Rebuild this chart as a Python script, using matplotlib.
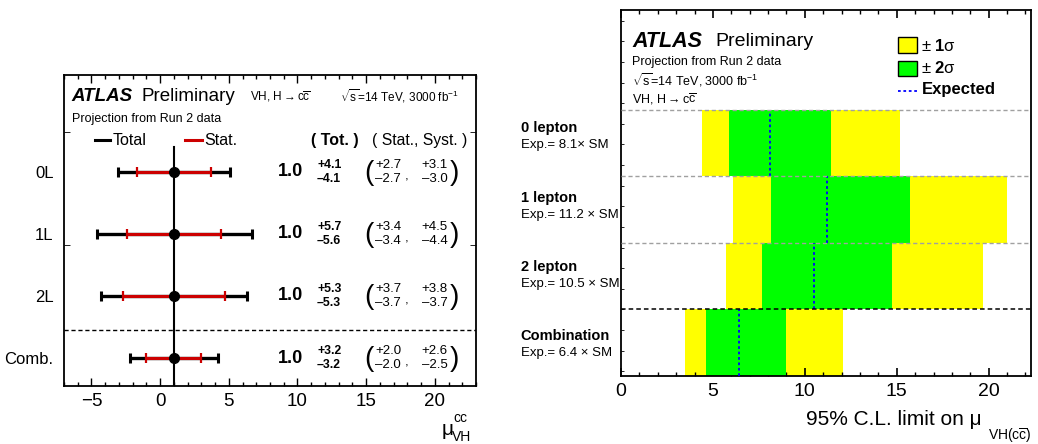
import numpy as np
import matplotlib
matplotlib.use("Agg")
import matplotlib.pyplot as plt
from matplotlib.patches import Rectangle
from matplotlib.ticker import MultipleLocator, FixedLocator
import matplotlib.transforms as mtransforms

plt.rcParams['font.family'] = ['Liberation Sans', 'DejaVu Sans']
plt.rcParams['mathtext.fontset'] = 'custom'
plt.rcParams['mathtext.rm'] = 'Liberation Sans'
plt.rcParams['mathtext.it'] = 'Liberation Sans:italic'
plt.rcParams['mathtext.bf'] = 'Liberation Sans:bold'
plt.rcParams['mathtext.sf'] = 'Liberation Sans'

# ---------------- data: left panel (signal strength) ----------------
left_labels = ["0L", "1L", "2L", "Comb."]
mu_vals = [1.0, 1.0, 1.0, 1.0]
tot_up = [4.1, 5.7, 5.3, 3.2]
tot_dn = [4.1, 5.6, 5.3, 3.2]
stat_up = [2.7, 3.4, 3.7, 2.0]
stat_dn = [2.7, 3.4, 3.7, 2.0]
syst_up = [3.1, 4.5, 3.8, 2.6]
syst_dn = [3.0, 4.4, 3.7, 2.5]

# ---------------- data: right panel (limits) ----------------
channels = ["0 lepton", "1 lepton", "2 lepton", "Combination"]
expected = [8.1, 11.2, 10.5, 6.4]
minus2 = [4.4, 6.1, 5.7, 3.5]
minus1 = [5.85, 8.15, 7.65, 4.65]
plus1 = [11.4, 15.7, 14.75, 9.0]
plus2 = [15.2, 21.0, 19.7, 12.05]

W, H = 1038, 444
fig = plt.figure(figsize=(W / 100, H / 100), dpi=100)

def px_axes(x0, x1, y0, y1):
    return fig.add_axes([x0 / W, 1 - y1 / H, (x1 - x0) / W, (y1 - y0) / H])

RED = '#CC0000'

# ================= LEFT PANEL =================
axL = px_axes(64, 476, 75, 386)
n = len(left_labels)
ypos = np.arange(n)[::-1].astype(float)  # 0L at top
axL.set_xlim(-7, 23)
axL.set_ylim(-0.45, 4.56)

axL.plot([1, 1], [-0.45, 3.4], color='black', lw=1.5, zorder=1)
axL.axhline(0.45, color='black', lw=1.0, ls=(0, (3, 2)), zorder=1)

axL.errorbar(mu_vals, ypos, xerr=[tot_dn, tot_up], fmt='none', ecolor='black',
             elinewidth=2.4, capsize=3.8, capthick=2.2, zorder=2)
axL.errorbar(mu_vals, ypos, xerr=[stat_dn, stat_up], fmt='none', ecolor=RED,
             elinewidth=2.2, capsize=3.8, capthick=1.6, zorder=3)
axL.plot(mu_vals, ypos, 'o', color='black', ms=7, zorder=4)

axL.set_yticks(ypos)
axL.set_yticklabels(left_labels, fontsize=12)
axL.yaxis.set_minor_locator(FixedLocator([0.0, 1.82, 3.64]))
axL.tick_params(axis='y', which='major', length=0, pad=7.5)
axL.tick_params(axis='y', which='minor', direction='in', length=4, left=True, right=True)
axL.xaxis.set_major_locator(MultipleLocator(5))
axL.xaxis.set_minor_locator(MultipleLocator(1))
axL.tick_params(axis='x', which='both', direction='in', top=True, bottom=True, labelsize=13.5, pad=5)
axL.tick_params(axis='x', which='major', length=5.5, width=1)
axL.tick_params(axis='x', which='minor', length=3, width=1)
for s in axL.spines.values():
    s.set_linewidth(1.3)

trL = mtransforms.blended_transform_factory(axL.transAxes, axL.transData)
def fxL(px):
    return (px - 64) / 412.0

axL.text(fxL(71.7), 4.215, "ATLAS", transform=trL, fontsize=13.5, fontweight='bold',
         fontstyle='italic', va='center', ha='left')
axL.text(fxL(141.7), 4.215, "Preliminary", transform=trL, fontsize=13.5, va='center', ha='left')
axL.text(fxL(250), 4.215, r"VH, H$\rightarrow$c$\overline{\mathrm{c}}$", transform=trL,
         fontsize=8.5, va='center', ha='left')
axL.text(fxL(340), 4.215, r"$\sqrt{\mathrm{s}}$=14 TeV, 3000 fb$^{-1}$", transform=trL,
         fontsize=8.5, va='center', ha='left')
axL.text(fxL(71.7), 3.855, "Projection from Run 2 data", transform=trL, fontsize=9,
         va='center', ha='left')

# legend
axL.plot([fxL(95), fxL(110)], [3.505, 3.505], color='black', lw=2.2, transform=trL, clip_on=False)
axL.text(fxL(112.7), 3.505, "Total", transform=trL, fontsize=11.5, va='center', ha='left')
axL.plot([fxL(185), fxL(201.7)], [3.505, 3.505], color=RED, lw=2.2, transform=trL, clip_on=False)
axL.text(fxL(204), 3.505, "Stat.", transform=trL, fontsize=11.5, va='center', ha='left')
axL.text(fxL(310.7), 3.505, "( Tot. )", transform=trL, fontsize=11.5, fontweight='bold',
         va='center', ha='left')
axL.text(fxL(371.7), 3.505, "( Stat., Syst. )", transform=trL, fontsize=11.3,
         va='center', ha='left')

dy = 0.115
for i in range(n):
    y = ypos[i]
    axL.text(fxL(290.5), y, f"{mu_vals[i]:.1f}", transform=trL, fontsize=13, fontweight='bold',
             va='center', ha='center')
    axL.text(fxL(317), y + dy, f"+{tot_up[i]:.1f}", transform=trL, fontsize=8.8, fontweight='bold',
             va='center', ha='left')
    axL.text(fxL(317), y - dy, f"\u2013{tot_dn[i]:.1f}", transform=trL, fontsize=8.8, fontweight='bold',
             va='center', ha='left')
    axL.text(fxL(368.5), y - 0.02, "(", transform=trL, fontsize=20, va='center', ha='center')
    axL.text(fxL(454), y - 0.02, ")", transform=trL, fontsize=20, va='center', ha='center')
    axL.text(fxL(375), y + dy, f"+{stat_up[i]:.1f}", transform=trL, fontsize=9.5,
             va='center', ha='left')
    axL.text(fxL(375), y - dy, f"\u2013{stat_dn[i]:.1f}", transform=trL, fontsize=9.5,
             va='center', ha='left')
    axL.text(fxL(407), y - 0.07, ",", transform=trL, fontsize=9.5, va='center', ha='center')
    axL.text(fxL(421.7), y + dy, f"+{syst_up[i]:.1f}", transform=trL, fontsize=9.5,
             va='center', ha='left')
    axL.text(fxL(421.7), y - dy, f"\u2013{syst_dn[i]:.1f}", transform=trL, fontsize=9.5,
             va='center', ha='left')

# x label
axL.text(fxL(453), -0.145, r"$\mathrm{\mu}$", transform=axL.transAxes, fontsize=15,
         va='center', ha='right')
axL.text(fxL(453.5), -0.103, "cc", transform=axL.transAxes, fontsize=10, va='center', ha='left')
axL.text(fxL(452), -0.163, "VH", transform=axL.transAxes, fontsize=10, va='center', ha='left')

# ================= RIGHT PANEL =================
axR = px_axes(621, 1031, 10, 376)
axR.set_xlim(0, 22.3)
axR.set_ylim(0, 5.5)
rows = np.arange(len(channels))[::-1].astype(float)  # 0 lepton at top

lo2 = np.array(minus2); hi2 = np.array(plus2)
lo1 = np.array(minus1); hi1 = np.array(plus1)
axR.barh(rows, hi2 - lo2, left=lo2, height=1.0, align='edge', color='#FFFF00', lw=0, zorder=1)
axR.barh(rows, hi1 - lo1, left=lo1, height=1.0, align='edge', color='#00FF00', lw=0, zorder=2)
for i in range(len(channels)):
    axR.plot([expected[i], expected[i]], [rows[i], rows[i] + 1], color='#0000FF', lw=1.3,
             ls=(0, (1.5, 1.5)), zorder=3)

for yl in [2, 3, 4]:
    axR.axhline(yl, color='#A0A0A0', lw=1.0, ls=(0, (3, 2)), zorder=4)
axR.axhline(1, color='black', lw=1.1, ls=(0, (3, 2)), zorder=4)

axR.xaxis.set_major_locator(MultipleLocator(5))
axR.xaxis.set_minor_locator(MultipleLocator(1))
axR.tick_params(axis='x', which='both', direction='in', top=True, bottom=True, labelsize=14, pad=5)
axR.tick_params(axis='x', which='major', length=6, width=1.2)
axR.tick_params(axis='x', which='minor', length=3, width=1)
axR.set_yticks([])
axR.yaxis.set_minor_locator(FixedLocator(np.arange(0.07, 5.5, 0.31)))
axR.tick_params(axis='y', which='minor', direction='in', length=2.5, left=True, right=False)
for s in axR.spines.values():
    s.set_linewidth(1.3)

trR = mtransforms.blended_transform_factory(axR.transAxes, axR.transData)
def fxR(px):
    return (px - 621) / 410.0

axR.text(fxR(632), 5.033, "ATLAS", transform=trR, fontsize=15.5, fontweight='bold',
         fontstyle='italic', va='center', ha='left')
axR.text(fxR(715), 5.033, "Preliminary", transform=trR, fontsize=14, va='center', ha='left')
axR.text(fxR(632), 4.712, "Projection from Run 2 data", transform=trR, fontsize=9,
         va='center', ha='left')
axR.text(fxR(632), 4.448, r"$\sqrt{\mathrm{s}}$=14 TeV, 3000 fb$^{-1}$", transform=trR,
         fontsize=9, va='center', ha='left')
axR.text(fxR(632), 4.153, r"VH, H$\rightarrow$c$\overline{\mathrm{c}}$", transform=trR,
         fontsize=9, va='center', ha='left')

# legend
axR.add_patch(Rectangle((fxR(898), 4.853), fxR(917) - fxR(898), 0.234, transform=trR,
                        facecolor='#FFFF00', edgecolor='black', lw=1, zorder=5))
axR.add_patch(Rectangle((fxR(898), 4.502), fxR(917) - fxR(898), 0.236, transform=trR,
                        facecolor='#00FF00', edgecolor='black', lw=1, zorder=5))
axR.text(fxR(920.7), 4.963, r"± $\mathbf{1}$σ", transform=trR, fontsize=12, va='center', ha='left')
axR.text(fxR(920.7), 4.622, r"± $\mathbf{2}$σ", transform=trR, fontsize=12, va='center', ha='left')
axR.plot([fxR(898), fxR(917)], [4.277, 4.277], transform=trR, color='#0000FF', lw=1.3,
         ls=(0, (1.5, 1.5)))
axR.text(fxR(921.7), 4.30, "Expected", transform=trR, fontsize=12, fontweight='bold',
         va='center', ha='left')

# row labels
for i in range(len(channels)):
    ty = 0.6 + 1.04 * rows[i]
    axR.text(fxR(520.6), ty, channels[i], transform=trR, fontsize=10.5, fontweight='bold',
             va='center', ha='left', clip_on=False)
    axR.text(fxR(520.6), ty - 0.255, f"Exp.= {expected[i]:.1f}\u00d7 SM" if i == 0 else
             f"Exp.= {expected[i]:.1f} \u00d7 SM", transform=trR, fontsize=9.5,
             va='center', ha='left', clip_on=False)

# x label
axR.text(fxR(981.7), (376 - 419) / 366.0, "95% C.L. limit on \u03bc", transform=axR.transAxes,
         fontsize=15, va='center', ha='right')
axR.text(fxR(988), (376 - 436) / 366.0, r"VH(c$\overline{\mathrm{c}}$)", transform=axR.transAxes,
         fontsize=10, va='center', ha='left')

fig.savefig("out.png", dpi=100)
